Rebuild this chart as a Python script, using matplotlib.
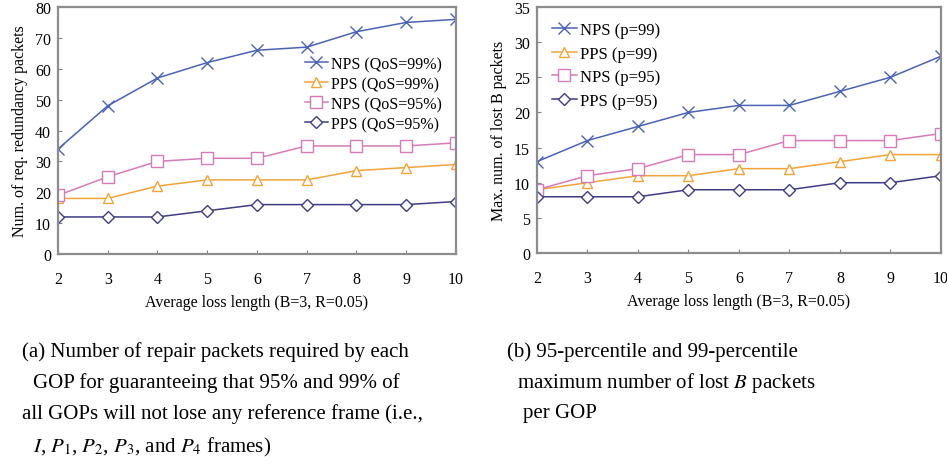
import matplotlib.pyplot as plt

plt.rcParams['font.family'] = ['Liberation Serif', 'DejaVu Serif']
plt.rcParams['mathtext.fontset'] = 'stix'

loss_len = [2, 3, 4, 5, 6, 7, 8, 9, 10]

# (a) required redundancy packets
nps99_a = [34, 48, 57, 62, 66, 67, 72, 75, 76]
pps99_a = [18, 18, 22, 24, 24, 24, 27, 28, 29]
nps95_a = [19, 25, 30, 31, 31, 35, 35, 35, 36]
pps95_a = [12, 12, 12, 14, 16, 16, 16, 16, 17]

# (b) max number of lost B packets
nps99_b = [13, 16, 18, 20, 21, 21, 23, 25, 28]
pps99_b = [9, 10, 11, 11, 12, 12, 13, 14, 14]
nps95_b = [9, 11, 12, 14, 14, 16, 16, 16, 17]
pps95_b = [8, 8, 8, 9, 9, 9, 10, 10, 11]

labels_a = ['NPS (QoS=99%)', 'PPS (QoS=99%)', 'NPS (QoS=95%)', 'PPS (QoS=95%)']
labels_b = ['NPS (p=99)', 'PPS (p=99)', 'NPS (p=95)', 'PPS (p=95)']

colors = ['#4b62b5', '#f0a43a', '#d67ab8', '#3d3c86']
markers = ['x', '^', 's', 'D']
msizes = [8, 7.5, 8, 6]

fig = plt.figure(figsize=(9.47, 4.77), dpi=100)
ax1 = fig.add_axes([0.0612, 0.4654, 0.4203, 0.5178])
ax2 = fig.add_axes([0.567, 0.4675, 0.4266, 0.5157])


def draw(ax, series, labels, ymax, ystep, ylabel):
    for ys, lab, c, m, ms in zip(series, labels, colors, markers, msizes):
        ax.plot(loss_len, ys, color=c, marker=m, markersize=ms, linewidth=1.1,
                markerfacecolor='white' if m != 'x' else c, markeredgecolor=c,
                markeredgewidth=1.0, label=lab)
    ax.set_xlim(2, 10)
    ax.set_ylim(0, ymax)
    ax.set_xticks(loss_len)
    ax.set_yticks(range(0, ymax + 1, ystep))
    ax.tick_params(direction='in', length=3, color='#808080', labelsize=11.5, pad=12)
    ax.tick_params(axis='y', pad=5)
    for s in ax.spines.values():
        s.set_color('#8c8c8c')
        s.set_linewidth(1.6)
    ax.set_xlabel('Average loss length (B=3, R=0.05)', fontsize=11.5, labelpad=5)
    ax.set_ylabel(ylabel, fontsize=11.5, labelpad=5)


draw(ax1, [nps99_a, pps99_a, nps95_a, pps95_a], labels_a, 80, 10,
     'Num. of req. redundancy packets')
ax1.legend(loc='upper right', bbox_to_anchor=(1.0, 0.86), frameon=False,
           fontsize=11.5, handlelength=1.4, handletextpad=0.2, labelspacing=0.25)

draw(ax2, [nps99_b, pps99_b, nps95_b, pps95_b], labels_b, 35, 5,
     'Max. num. of lost B packets')
ax2.legend(loc='upper left', bbox_to_anchor=(0.0, 1.0), frameon=False,
           fontsize=12, handlelength=1.5, handletextpad=0.2, labelspacing=0.45)

cap = dict(fontsize=15, va='center', ha='left')
fig.text(22 / 947, 1 - 352 / 477, '(a) Number of repair packets required by each', **cap)
fig.text(33 / 947, 1 - 383 / 477, 'GOP for guaranteeing that 95% and 99% of', **cap)
fig.text(22 / 947, 1 - 414 / 477, 'all GOPs will not lose any reference frame (i.e.,', **cap)
fig.text(33 / 947, 1 - 447 / 477,
         r'$I$, $P_1$, $P_2$, $P_3$, and $P_4$ frames)', **cap)
fig.text(507 / 947, 1 - 352 / 477, '(b) 95-percentile and 99-percentile', **cap)
fig.text(517 / 947, 1 - 383 / 477, r'maximum number of lost $B$ packets', **cap)
fig.text(523 / 947, 1 - 414 / 477, 'per GOP', **cap)

fig.savefig('out.png', dpi=100)
